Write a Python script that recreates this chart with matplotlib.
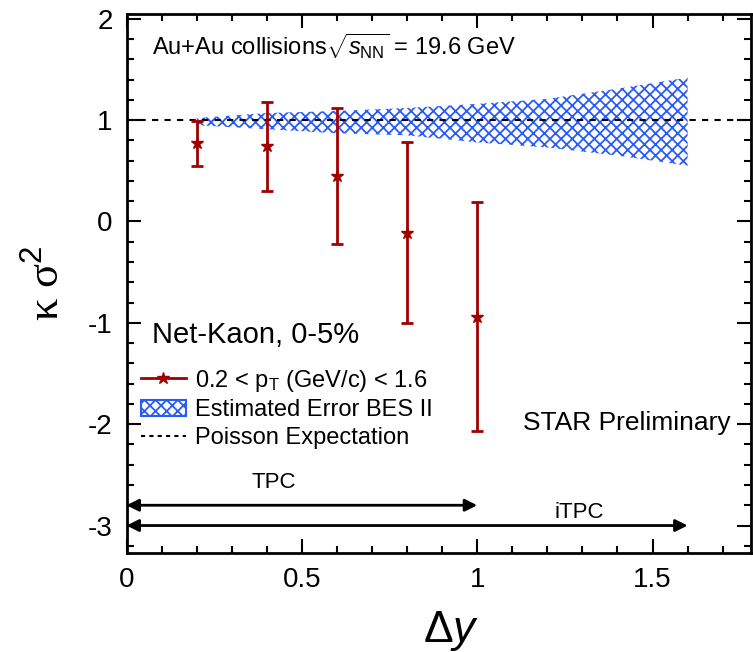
import matplotlib
matplotlib.use("Agg")
import matplotlib.pyplot as plt
from matplotlib.lines import Line2D
from matplotlib.patches import Patch
from matplotlib.ticker import MultipleLocator
import numpy as np

plt.rcParams['font.family'] = ['Liberation Sans', 'DejaVu Sans']
plt.rcParams['mathtext.fontset'] = 'custom'
plt.rcParams['mathtext.rm'] = 'Liberation Sans'
plt.rcParams['mathtext.it'] = 'Liberation Sans:italic'
plt.rcParams['axes.unicode_minus'] = False
plt.rcParams['hatch.linewidth'] = 1.3

# net-kaon kappa*sigma^2 vs rapidity window
dy = [0.2, 0.4, 0.6, 0.8, 1.0]
ks2 = [0.77, 0.74, 0.45, -0.11, -0.94]
ks2_err = [0.22, 0.44, 0.67, 0.89, 1.13]

# projected BES II error band around Poisson baseline
band_x = [0.2, 0.4, 0.6, 0.8, 1.0, 1.2, 1.4, 1.6]
band_hi = [1.02, 1.07, 1.09, 1.12, 1.16, 1.21, 1.31, 1.42]
band_lo = [0.95, 0.91, 0.87, 0.85, 0.78, 0.73, 0.65, 0.55]

poisson = 1.0
red = '#a00000'
blue = '#2a5cf5'

fig = plt.figure(figsize=(7.53, 6.52), dpi=100)
ax = fig.add_axes([0.168, 0.152, 0.829, 0.827])

ax.fill_between(band_x, band_lo, band_hi, facecolor='none', edgecolor=blue,
                linewidth=0, hatch='xxx')
ax.axhline(poisson, color='black', linestyle=(0, (3, 3)), linewidth=1.5)
ax.errorbar(dy, ks2, yerr=ks2_err, fmt='*', color=red, markersize=9,
            elinewidth=2, capsize=4, capthick=2)

# detector acceptance arrows
ax.annotate('', xy=(1.0, -2.8), xytext=(0.0, -2.8),
            arrowprops=dict(arrowstyle='<|-|>', color='black', lw=2,
                            mutation_scale=18, shrinkA=0, shrinkB=0))
ax.annotate('', xy=(1.6, -3.0), xytext=(0.0, -3.0),
            arrowprops=dict(arrowstyle='<|-|>', color='black', lw=2,
                            mutation_scale=18, shrinkA=0, shrinkB=0))
ax.text(0.42, -2.58, 'TPC', fontsize=16, ha='center', va='center')
ax.text(1.29, -2.87, 'iTPC', fontsize=16, ha='center', va='center')

ax.text(0.073, 1.73, r'Au+Au collisions$\sqrt{s_{\rm NN}}$ = 19.6 GeV',
        fontsize=17, ha='left', va='center')
ax.text(0.073, -1.12, 'Net-Kaon, 0-5%', fontsize=21, ha='left', va='center')
ax.text(1.724, -1.99, 'STAR Preliminary', fontsize=19, ha='right', va='center')

handles = [
    Line2D([], [], color=red, marker='*', markersize=9, linewidth=2),
    Patch(facecolor='none', edgecolor=blue, hatch='xxx', linewidth=1.5),
    Line2D([], [], color='black', linestyle=(0, (2, 2)), linewidth=1.5),
]
labels = [r'0.2 < p$_{\rm T}$ (GeV/c) < 1.6', 'Estimated Error BES II',
          'Poisson Expectation']
ax.legend(handles, labels, loc='upper left', bbox_to_anchor=(0.0, 0.37),
          frameon=False, fontsize=17, handlelength=1.9, handletextpad=0.4,
          labelspacing=0.25, borderaxespad=0.2)

ax.set_xlim(0, 1.78)
ax.set_ylim(-3.27, 2.05)
ax.xaxis.set_major_locator(MultipleLocator(0.5))
ax.xaxis.set_minor_locator(MultipleLocator(0.1))
ax.yaxis.set_major_locator(MultipleLocator(1))
ax.yaxis.set_minor_locator(MultipleLocator(0.2))
ax.set_xticks([0, 0.5, 1, 1.5])
ax.set_xticklabels(['0', '0.5', '1', '1.5'])
ax.tick_params(which='both', direction='in', top=True, right=True,
               labelsize=20, width=1.5)
ax.tick_params(which='major', length=10, pad=10)
ax.tick_params(which='minor', length=5)
for s in ax.spines.values():
    s.set_linewidth(2)

ax.set_xlabel(r'$\Delta y$', fontsize=32, x=0.52, labelpad=12)
ax.set_ylabel(r'κ σ$^{2}$', fontsize=32, labelpad=14,
              family=['Liberation Serif', 'DejaVu Serif'])

fig.savefig('out.png', dpi=100)
